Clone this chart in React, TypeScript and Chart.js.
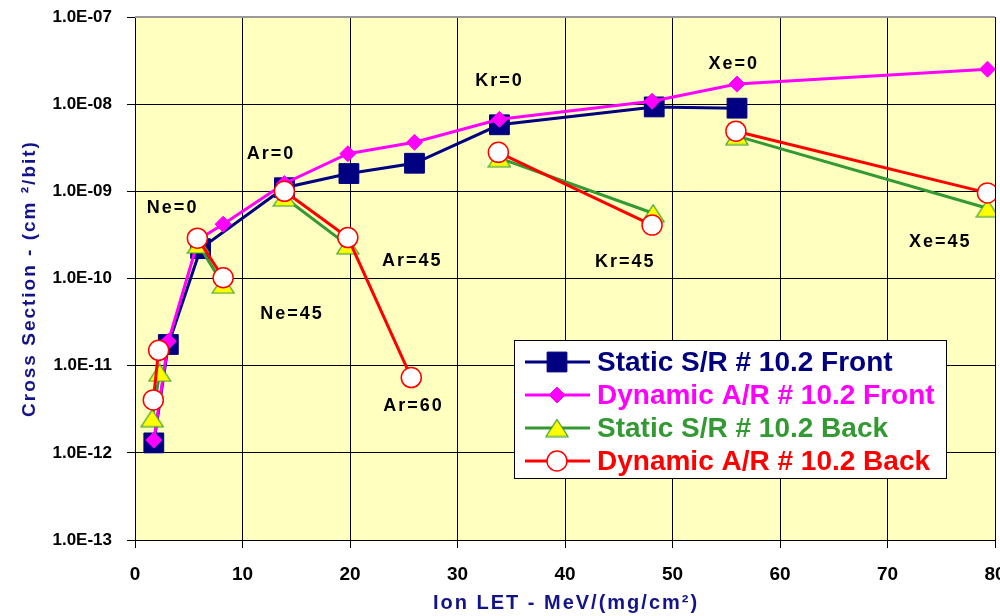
import React, { useEffect, useRef } from 'react';
import { Chart, registerables } from 'chart.js';
import { drawPoint } from 'chart.js/helpers';

Chart.register(...registerables);

// ---------- data ----------
const seriesNames = [
  'Static S/R # 10.2 Front',
  'Dynamic A/R # 10.2 Front',
  'Static S/R # 10.2 Back',
  'Dynamic A/R # 10.2 Back',
];

const staticFrontLET = [1.75, 3.1, 6.1, 13.9, 19.9, 26.0, 33.9, 48.3, 56.0];
const staticFrontXS = [1.3e-12, 1.75e-11, 2.2e-10, 1.1e-9, 1.6e-9, 2.1e-9, 5.8e-9, 9.3e-9, 9.0e-9];

const dynamicFrontLET = [1.75, 3.1, 5.9, 8.2, 13.9, 19.8, 26.0, 33.9, 48.1, 56.0, 79.3];
const dynamicFrontXS = [1.4e-12, 1.9e-11, 2.8e-10, 4.2e-10, 1.23e-9, 2.7e-9, 3.65e-9, 6.7e-9, 1.08e-8, 1.7e-8, 2.52e-8];

// null entries break the line between ion groups
const staticBackLET = [1.6, 2.3, null, 5.9, 8.2, null, 13.9, 19.8, null, 33.9, 48.2, null, 56.0, 79.3];
const staticBackXS = [2.5e-12, 8.3e-12, null, 2.45e-10, 8.5e-11, null, 8.5e-10, 2.4e-10, null, 2.4e-9, 5.6e-10, null, 4.3e-9, 6.4e-10];

const dynamicBackLET = [1.7, 2.2, null, 5.8, 8.2, null, 13.9, 19.8, 25.7, null, 33.8, 48.1, null, 55.9, 79.3];
const dynamicBackXS = [4.05e-12, 1.5e-11, null, 2.9e-10, 1.02e-10, null, 1.0e-9, 2.95e-10, 7.3e-12, null, 2.8e-9, 4.1e-10, null, 4.9e-9, 9.6e-10];

const annotationText = ['Ne=0', 'Ne=45', 'Ar=0', 'Ar=45', 'Ar=60', 'Kr=0', 'Kr=45', 'Xe=0', 'Xe=45'];
const annotationLET = [3.5, 14.6, 12.65, 25.8, 25.9, 33.9, 45.6, 55.7, 74.9];
const annotationXS = [6.4e-10, 3.9e-11, 2.7e-9, 1.57e-10, 3.4e-12, 1.84e-8, 1.55e-10, 2.9e-8, 2.6e-10];

const xTickMin = 0;
const xTickMax = 80;
const xTickStep = 10;
const yDecadeExponents = [-13, -12, -11, -10, -9, -8, -7];

const xTitle = 'Ion LET - MeV/(mg/cm\u00B2)';
const yTitle = 'Cross Section - (cm \u00B2/bit)';

// ---------- styling ----------
const FONT = "'Liberation Sans', Arial, sans-serif";
const NAVY = '#000080';
const MAGENTA = '#FF00FF';
const GREEN = '#339933';
const RED = '#FF0000';
const TITLE_BLUE = '#14148a';
const PLOT_BG = '#FFFFC0';

function toPoints(xs: (number | null)[], ys: (number | null)[]) {
  const out: { x: number; y: number | null }[] = [];
  xs.forEach((x, i) => {
    const px = x === null ? (out.length ? out[out.length - 1].x : 0) : x;
    out.push({ x: px, y: ys[i] });
  });
  return out;
}

function makeTriangle(): HTMLCanvasElement {
  const c = document.createElement('canvas');
  c.width = 24;
  c.height = 19;
  const g = c.getContext('2d')!;
  g.beginPath();
  g.moveTo(12, 1);
  g.lineTo(23, 18);
  g.lineTo(1, 18);
  g.closePath();
  g.fillStyle = '#FFFF00';
  g.fill();
  g.lineWidth = 1.2;
  g.strokeStyle = GREEN;
  g.stroke();
  return c;
}

function fmtExp(v: number) {
  const e = Math.round(Math.log10(v));
  const s = e < 0 ? '-' : '+';
  return '1.0E' + s + String(Math.abs(e)).padStart(2, '0');
}

export default function App() {
  const ref = useRef<HTMLCanvasElement>(null);

  useEffect(() => {
    document.body.style.margin = '0';
    const canvas = ref.current!;
    const tri = makeTriangle();

    const bgPlugin = {
      id: 'bg',
      beforeDraw(chart: any) {
        const { ctx, chartArea: ca } = chart;
        ctx.save();
        ctx.fillStyle = '#FFFFFF';
        ctx.fillRect(0, 0, chart.width, chart.height);
        ctx.fillStyle = PLOT_BG;
        ctx.fillRect(ca.left, ca.top, ca.right - ca.left, ca.bottom - ca.top);
        ctx.restore();
      },
    };

    const annotationPlugin = {
      id: 'ionLabels',
      afterDatasetsDraw(chart: any) {
        const { ctx } = chart;
        const xs = chart.scales.x;
        const ys = chart.scales.y;
        ctx.save();
        ctx.font = `bold 18px ${FONT}`;
        (ctx as any).letterSpacing = '2px';
        ctx.fillStyle = '#000';
        ctx.textAlign = 'center';
        ctx.textBaseline = 'middle';
        annotationText.forEach((t, i) => {
          ctx.fillText(t, xs.getPixelForValue(annotationLET[i]), ys.getPixelForValue(annotationXS[i]));
        });
        ctx.restore();
      },
    };

    const decorPlugin = {
      id: 'decor',
      afterDraw(chart: any) {
        const { ctx, chartArea: ca } = chart;
        ctx.save();
        // top border of plot area
        ctx.strokeStyle = '#9a9a9a';
        ctx.lineWidth = 2;
        ctx.beginPath();
        ctx.moveTo(ca.left, ca.top);
        ctx.lineTo(ca.right, ca.top);
        ctx.stroke();

        // legend box
        const lx = ca.left + 379;
        const ly = ca.top + 323;
        const lw = 432;
        const lh = 138;
        ctx.fillStyle = '#FFFFFF';
        ctx.fillRect(lx, ly, lw, lh);
        ctx.strokeStyle = '#000';
        ctx.lineWidth = 1;
        ctx.strokeRect(lx + 0.5, ly + 0.5, lw, lh);

        chart.data.datasets.forEach((ds: any, i: number) => {
          const rowY = ly + 22 + i * 33;
          ctx.strokeStyle = ds.borderColor;
          ctx.lineWidth = 3;
          ctx.beginPath();
          ctx.moveTo(lx + 11, rowY);
          ctx.lineTo(lx + 76, rowY);
          ctx.stroke();
          ctx.fillStyle = ds.pointBackgroundColor;
          ctx.strokeStyle = ds.pointBorderColor;
          ctx.lineWidth = ds.pointBorderWidth;
          drawPoint(ctx, {
            pointStyle: ds.pointStyle,
            radius: ds.pointRadius,
            borderWidth: ds.pointBorderWidth,
            rotation: 0,
          } as any, lx + 43, rowY);
          ctx.font = `bold 28px ${FONT}`;
          ctx.fillStyle = ds.borderColor;
          ctx.textAlign = 'left';
          ctx.textBaseline = 'middle';
          ctx.fillText(ds.label, lx + 83, rowY + 1);
        });

        // axis titles
        ctx.fillStyle = TITLE_BLUE;
        ctx.textAlign = 'center';
        ctx.textBaseline = 'middle';
        (ctx as any).letterSpacing = '2px';
        ctx.font = `bold 20px ${FONT}`;
        ctx.fillText(xTitle, (ca.left + ca.right) / 2 + 1, 603);
        ctx.font = `bold 19px ${FONT}`;
        ctx.translate(30, (ca.top + ca.bottom) / 2);
        ctx.rotate(-Math.PI / 2);
        ctx.fillText(yTitle, 0, 0);
        ctx.restore();
      },
    };

    const chart = new Chart(canvas, {
      type: 'line',
      data: {
        datasets: [
          {
            label: seriesNames[0],
            data: toPoints(staticFrontLET, staticFrontXS),
            borderColor: NAVY,
            backgroundColor: NAVY,
            borderWidth: 3,
            pointStyle: 'rect',
            pointRadius: 14,
            pointBackgroundColor: NAVY,
            pointBorderColor: NAVY,
            pointBorderWidth: 1,
            order: 4,
          },
          {
            label: seriesNames[1],
            data: toPoints(dynamicFrontLET, dynamicFrontXS),
            borderColor: MAGENTA,
            backgroundColor: MAGENTA,
            borderWidth: 3,
            pointStyle: 'rectRot',
            pointRadius: 8,
            pointBackgroundColor: MAGENTA,
            pointBorderColor: MAGENTA,
            pointBorderWidth: 1,
            order: 3,
          },
          {
            label: seriesNames[2],
            data: toPoints(staticBackLET, staticBackXS),
            borderColor: GREEN,
            backgroundColor: '#FFFF00',
            borderWidth: 3,
            pointStyle: tri,
            pointRadius: 11,
            pointBackgroundColor: '#FFFF00',
            pointBorderColor: GREEN,
            pointBorderWidth: 1,
            order: 2,
          },
          {
            label: seriesNames[3],
            data: toPoints(dynamicBackLET, dynamicBackXS),
            borderColor: RED,
            backgroundColor: '#FFFFFF',
            borderWidth: 3,
            pointStyle: 'circle',
            pointRadius: 10,
            pointBackgroundColor: '#FFFFFF',
            pointBorderColor: RED,
            pointBorderWidth: 1.5,
            order: 1,
          },
        ] as any,
      },
      options: {
        responsive: false,
        devicePixelRatio: 1,
        animation: false,
        events: [],
        spanGaps: false,
        layout: { autoPadding: false, padding: { top: 17, right: 5, left: 0, bottom: 0 } },
        plugins: {
          legend: { display: false },
          tooltip: { enabled: false },
          title: { display: false },
        },
        elements: { line: { tension: 0 } },
        scales: {
          x: {
            type: 'linear',
            min: xTickMin,
            max: xTickMax,
            ticks: {
              stepSize: xTickStep,
              color: '#000',
              padding: 15,
              maxRotation: 0,
              font: { family: FONT, size: 19, weight: 'bold' },
            },
            grid: { color: '#000', lineWidth: 1, tickLength: 8 },
            border: { color: '#000', width: 1 },
            afterFit(s: any) {
              s.height = 76;
              s.paddingLeft = 0;
              s.paddingRight = 0;
            },
          },
          y: {
            type: 'logarithmic',
            min: Number('1e' + yDecadeExponents[0]),
            max: Number('1e' + yDecadeExponents[yDecadeExponents.length - 1]),
            afterBuildTicks(s: any) {
              s.ticks = yDecadeExponents.map((e) => ({ value: Number('1e' + e) }));
            },
            ticks: {
              color: '#000',
              padding: 15,
              autoSkip: false,
              font: { family: FONT, size: 17, weight: 'bold' },
              callback: (v: any) => fmtExp(Number(v)),
            },
            grid: { color: '#000', lineWidth: 1, tickLength: 8 },
            border: { color: '#000', width: 1 },
            afterFit(s: any) {
              s.width = 135;
              s.paddingTop = 0;
              s.paddingBottom = 0;
            },
          },
        },
      } as any,
      plugins: [bgPlugin, annotationPlugin, decorPlugin],
    });

    return () => chart.destroy();
  }, []);

  return (
    <div style={{ width: 1000, height: 616, position: 'relative' }}>
      <canvas ref={ref} width={1000} height={616} style={{ display: 'block', width: 1000, height: 616 }} />
    </div>
  );
}
